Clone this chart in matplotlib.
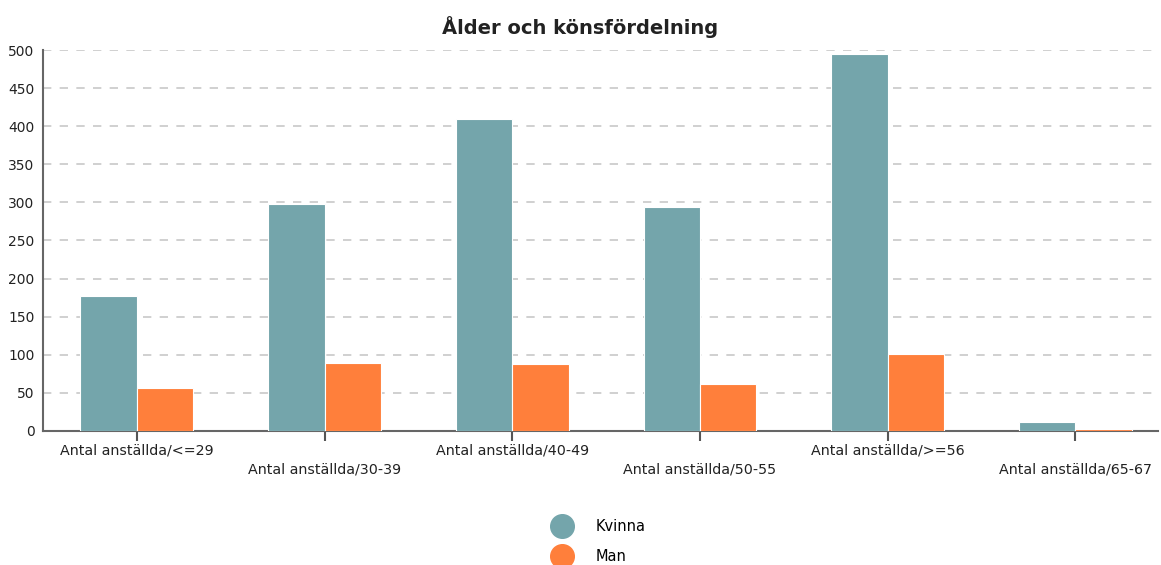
import numpy as np
import matplotlib.pyplot as plt
from matplotlib.lines import Line2D

categories = ['Antal anställda/<=29', 'Antal anställda/30-39', 'Antal anställda/40-49',
              'Antal anställda/50-55', 'Antal anställda/>=56', 'Antal anställda/65-67']
kvinna = [177, 298, 409, 294, 495, 12]
man = [57, 89, 88, 62, 101, 3]
series_names = ['Kvinna', 'Man']
colors = ['#74a5ab', '#ff7f3b']

fig = plt.figure(figsize=(11.61, 5.65), dpi=100)
ax = fig.add_axes([0.037, 0.2372, 0.9604, 0.6743])

x = np.arange(len(categories))
w = 0.3
ax.bar(x - w / 2, kvinna, w, color=colors[0], edgecolor='white', linewidth=0.8, zorder=3)
ax.bar(x + w / 2, man, w, color=colors[1], edgecolor='white', linewidth=0.8, zorder=3)

ax.set_xlim(-0.5, 5.44)
ax.set_ylim(0, 500)
ax.set_yticks(range(0, 501, 50))
ax.grid(axis='y', linestyle=(0, (5, 5)), color='#c8c8c8', linewidth=1.2, zorder=0)

labels = [c if i % 2 == 0 else '\n' + c for i, c in enumerate(categories)]
ax.set_xticks(x)
ax.set_xticklabels(labels, fontsize=10.3, color='#222222', linespacing=1.45)
ax.tick_params(axis='x', length=7, width=1.5, color='#555555', pad=2)
ax.tick_params(axis='y', length=0, labelsize=10, labelcolor='#222222', pad=6)

for s in ['top', 'right']:
    ax.spines[s].set_visible(False)
for s in ['left', 'bottom']:
    ax.spines[s].set_color('#666666')
    ax.spines[s].set_linewidth(1.5)

fig.text(0.5, 0.952, 'Ålder och könsfördelning', ha='center', va='center',
         fontsize=14, fontweight='bold', color='#222222')

handles = [Line2D([], [], marker='o', linestyle='', markersize=17, color=c) for c in colors]
fig.legend(handles, series_names, loc='center', bbox_to_anchor=(0.514, 0.041),
           frameon=False, fontsize=10.5, handletextpad=1.3, labelspacing=1.05,
           borderaxespad=0, borderpad=0)

fig.savefig('out.png', dpi=100)
